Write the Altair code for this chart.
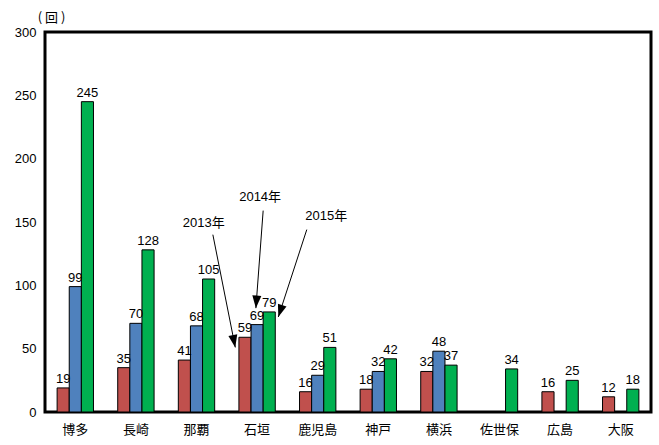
import math

import altair as alt
import pandas as pd

# Port calls by cruise ships, per port and year (None = no calls)
ports = ["博多", "長崎", "那覇", "石垣", "鹿児島", "神戸", "横浜", "佐世保", "広島", "大阪"]
years = ["2013年", "2014年", "2015年"]
calls_2013 = [19, 35, 41, 59, 16, 18, 32, None, 16, 12]
calls_2014 = [99, 70, 68, 69, 29, 32, 48, None, None, None]
calls_2015 = [245, 128, 105, 79, 51, 42, 37, 34, 25, 18]
year_colors = ["#C0504D", "#4F81BD", "#00B050"]
y_ticks = [0, 50, 100, 150, 200, 250, 300]
unit_label = "( 回 )"

# Callouts naming the years, in data units (x: category index, y: calls)
note_text_x = [2.62, 3.55, 4.64]
note_text_y = [149, 170, 155]
note_from_x = [2.77, 3.60, 4.32]
note_from_y = [140, 159, 144]
note_to_x = [3.14, 3.48, 3.85]
note_to_y = [51, 82, 75]

rows = []
for year, series in zip(years, [calls_2013, calls_2014, calls_2015]):
    for port, v in zip(ports, series):
        if v is not None:
            rows.append({"port": port, "year": year, "calls": v})
df = pd.DataFrame(rows)

W, H = 606, 380
px_x = W / len(ports)
px_y = H / 300.0
angles = []
for fx, fy, tx, ty in zip(note_from_x, note_from_y, note_to_x, note_to_y):
    dx = (tx - fx) * px_x
    dy = -(ty - fy) * px_y
    angles.append(math.degrees(math.atan2(dx, -dy)) % 360)

notes = pd.DataFrame({
    "label": years,
    "tx": note_text_x, "ty": note_text_y,
    "fx": note_from_x, "fy": note_from_y,
    "hx": note_to_x, "hy": note_to_y,
    "angle": angles,
})

NUM_FONT = "Liberation Sans Narrow, Liberation Sans, Arial"
y_scale = alt.Scale(domain=[0, 300], nice=False, zero=True)
x_enc = alt.X(
    "port:N", sort=ports, title=None,
    scale=alt.Scale(paddingInner=0.4, paddingOuter=0.2),
    axis=alt.Axis(labelAngle=0, labelFont="Noto Sans CJK JP", labelFontSize=13,
                  labelColor="#000000", labelPadding=11, ticks=False, domain=False),
)
xo_enc = alt.XOffset("year:N", sort=years, scale=alt.Scale(paddingInner=0, paddingOuter=0))

bars = alt.Chart(df).mark_bar(stroke="#000000", strokeWidth=1).encode(
    x=x_enc,
    xOffset=xo_enc,
    y=alt.Y(
        "calls:Q", scale=y_scale, title=unit_label,
        axis=alt.Axis(values=y_ticks, grid=False, ticks=False, domain=False,
                      labelFont="Liberation Sans", labelFontSize=13, labelColor="#000000",
                      labelPadding=9, titleAngle=0, titleAlign="center",
                      titleBaseline="alphabetic", titleX=6, titleY=-11,
                      titleFont="Noto Sans CJK JP", titleFontSize=13,
                      titleFontWeight="normal", titleColor="#000000"),
    ),
    color=alt.Color("year:N", sort=years,
                    scale=alt.Scale(domain=years, range=year_colors), legend=None),
)

values = alt.Chart(df).mark_text(
    baseline="bottom", dy=-2, font=NUM_FONT, fontSize=13, color="#000000"
).encode(
    x=alt.X("port:N", sort=ports),
    xOffset=xo_enc,
    y=alt.Y("calls:Q", scale=y_scale, title=unit_label),
    text="calls:Q",
)

bar_part = alt.layer(bars, values)

nx = alt.Scale(domain=[0, len(ports)], nice=False, zero=False)
base_notes = alt.Chart(notes)

arrows = base_notes.mark_rule(color="#000000", strokeWidth=1).encode(
    x=alt.X("fx:Q", scale=nx, axis=None),
    x2="hx:Q",
    y=alt.Y("fy:Q", scale=y_scale, title=unit_label),
    y2="hy:Q",
)

heads = base_notes.mark_point(
    shape="M0,0L-0.75,2.1L0.75,2.1Z", filled=True, color="#000000", opacity=1, size=144
).encode(
    x=alt.X("hx:Q", scale=nx, axis=None),
    y=alt.Y("hy:Q", scale=y_scale, title=unit_label),
    angle=alt.Angle("angle:Q", scale=None),
)

note_labels = base_notes.mark_text(
    font="Liberation Sans Narrow, Liberation Sans, Noto Sans CJK JP", fontSize=13,
    color="#000000", baseline="middle", align="center"
).encode(
    x=alt.X("tx:Q", scale=nx, axis=None),
    y=alt.Y("ty:Q", scale=y_scale, title=unit_label),
    text="label:N",
)

note_part = alt.layer(arrows, heads, note_labels)

chart = alt.layer(bar_part, note_part).resolve_scale(x="independent").properties(
    width=W, height=H,
    autosize="none",
    padding={"left": 45, "top": 32, "right": 8, "bottom": 33},
    background="#ffffff",
).configure_view(stroke="#000000", strokeWidth=3)

chart.save("out.html", embed_options={"renderer": "svg", "actions": False})
